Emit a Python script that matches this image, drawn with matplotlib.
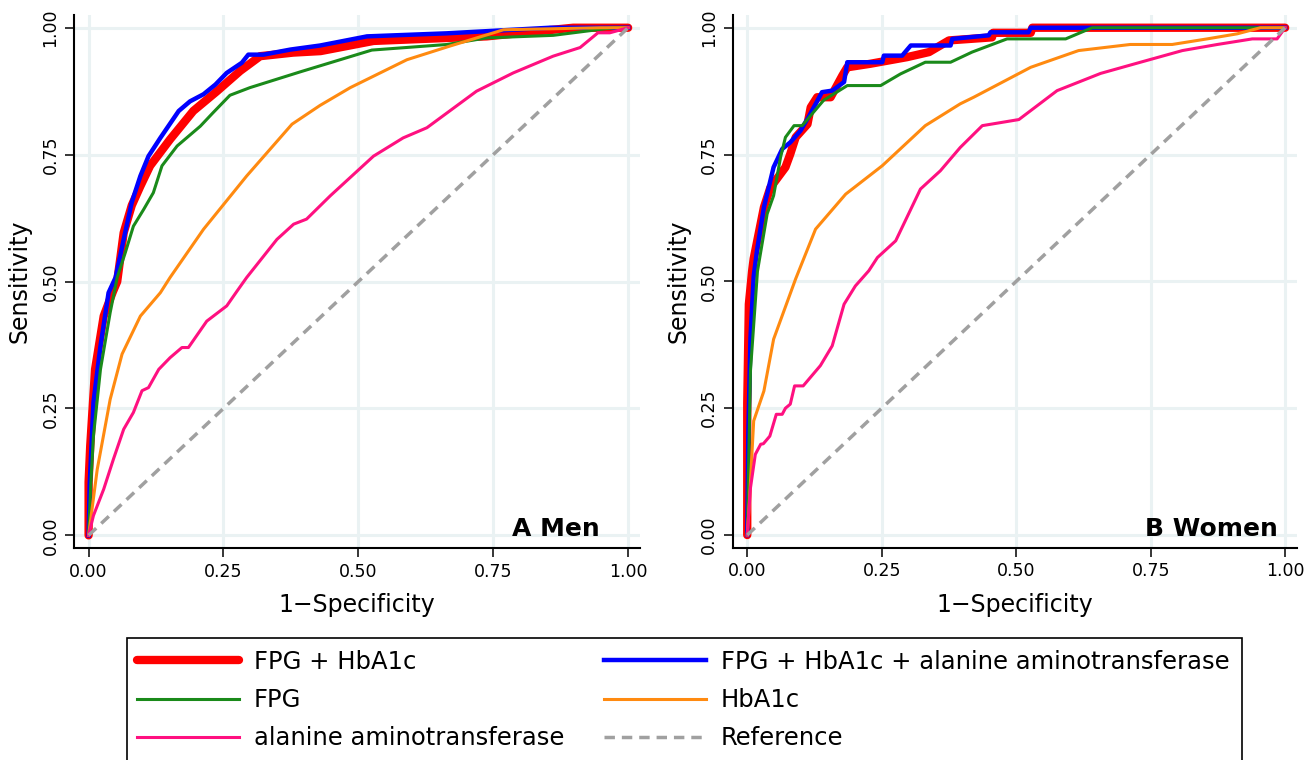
import matplotlib
matplotlib.use('Agg')
import matplotlib.pyplot as plt
from matplotlib.patches import Rectangle

plt.rcParams['font.family'] = ['DejaVu Sans']

# ---- Men (panel A) ----
men_comb_x = [0, 0.0, 0.003, 0.012, 0.028, 0.045, 0.053, 0.065, 0.08, 0.096, 0.114, 0.151, 0.194, 0.238,
              0.281, 0.318, 0.379, 0.43, 0.528, 0.738, 0.898, 1.0]
men_comb_y = [0, 0.105, 0.176, 0.327, 0.432, 0.48, 0.5, 0.596, 0.65, 0.688, 0.728, 0.78, 0.836, 0.875,
              0.915, 0.944, 0.951, 0.954, 0.974, 0.983, 1.0, 1.0]

men_all_x = [0, 0.002, 0.009, 0.022, 0.037, 0.05, 0.065, 0.08, 0.096, 0.111, 0.133, 0.167, 0.188, 0.213,
             0.235, 0.256, 0.284, 0.296, 0.324, 0.374, 0.429, 0.516, 0.664, 0.855, 1.0]
men_all_y = [0, 0.1, 0.262, 0.373, 0.478, 0.508, 0.583, 0.656, 0.708, 0.747, 0.783, 0.836, 0.855, 0.869,
             0.888, 0.911, 0.931, 0.947, 0.947, 0.957, 0.965, 0.983, 0.989, 1.0, 1.0]

men_fpg_x = [0, 0.004, 0.009, 0.022, 0.04, 0.053, 0.068, 0.083, 0.102, 0.12, 0.136, 0.164, 0.207, 0.231,
             0.262, 0.299, 0.392, 0.525, 0.664, 0.738, 0.861, 0.972, 1.0]
men_fpg_y = [0, 0.1, 0.196, 0.327, 0.439, 0.508, 0.557, 0.609, 0.642, 0.675, 0.728, 0.767, 0.806, 0.833,
             0.867, 0.882, 0.913, 0.956, 0.967, 0.98, 0.985, 1.0, 1.0]

men_hba1c_x = [0, 0.016, 0.04, 0.062, 0.096, 0.133, 0.151, 0.213, 0.293, 0.377, 0.429, 0.485, 0.59, 0.67,
               0.769, 0.95, 1.0]
men_hba1c_y = [0, 0.13, 0.268, 0.357, 0.432, 0.478, 0.508, 0.603, 0.708, 0.81, 0.847, 0.882, 0.937, 0.964,
               0.996, 1.0, 1.0]

men_alt_x = [0, 0.009, 0.028, 0.046, 0.065, 0.083, 0.099, 0.111, 0.13, 0.151, 0.173, 0.185, 0.219, 0.256,
             0.275, 0.293, 0.349, 0.38, 0.404, 0.448, 0.528, 0.583, 0.627, 0.719, 0.787, 0.861, 0.911, 0.944,
             0.966, 1.0]
men_alt_y = [0, 0.039, 0.091, 0.15, 0.209, 0.242, 0.285, 0.291, 0.327, 0.35, 0.37, 0.37, 0.422, 0.452,
             0.481, 0.508, 0.583, 0.613, 0.623, 0.669, 0.747, 0.783, 0.803, 0.875, 0.911, 0.944, 0.961, 0.99,
             0.99, 1.0]

# ---- Women (panel B) ----
women_comb_x = [0, 0.0, 0.003, 0.009, 0.012, 0.031, 0.043, 0.071, 0.08, 0.09, 0.112, 0.118, 0.13, 0.155,
                0.177, 0.186, 0.229, 0.297, 0.338, 0.375, 0.455, 0.457, 0.527, 0.53, 1.0]
women_comb_y = [0, 0.26, 0.455, 0.52, 0.545, 0.646, 0.685, 0.725, 0.751, 0.784, 0.81, 0.843, 0.863, 0.863,
                0.906, 0.922, 0.929, 0.942, 0.952, 0.975, 0.981, 0.99, 0.99, 1.0, 1.0]

women_all_x = [0, 0.002, 0.006, 0.012, 0.018, 0.031, 0.049, 0.065, 0.08, 0.099, 0.114, 0.139, 0.158, 0.18,
               0.186, 0.251, 0.254, 0.288, 0.304, 0.378, 0.381, 0.449, 0.452, 0.523, 0.527, 1.0]
women_all_y = [0, 0.2, 0.389, 0.51, 0.56, 0.646, 0.725, 0.761, 0.774, 0.797, 0.824, 0.873, 0.876, 0.893,
               0.932, 0.932, 0.945, 0.945, 0.965, 0.965, 0.978, 0.985, 0.991, 0.991, 1.0, 1.0]

women_fpg_x = [0, 0.006, 0.019, 0.037, 0.049, 0.062, 0.071, 0.087, 0.102, 0.142, 0.186, 0.248, 0.285,
               0.331, 0.378, 0.418, 0.483, 0.592, 0.641, 1.0]
women_fpg_y = [0, 0.324, 0.52, 0.633, 0.669, 0.745, 0.784, 0.807, 0.807, 0.857, 0.886, 0.886, 0.909,
               0.932, 0.932, 0.952, 0.978, 0.978, 1.0, 1.0]

women_hba1c_x = [0, 0.003, 0.012, 0.031, 0.049, 0.09, 0.127, 0.183, 0.251, 0.331, 0.396, 0.421, 0.527,
                 0.616, 0.712, 0.79, 0.855, 0.911, 0.954, 1.0]
women_hba1c_y = [0, 0.047, 0.225, 0.284, 0.386, 0.505, 0.603, 0.672, 0.728, 0.807, 0.85, 0.863, 0.922,
                 0.955, 0.967, 0.967, 0.978, 0.988, 1.0, 1.0]

women_alt_x = [0, 0.006, 0.015, 0.025, 0.03, 0.042, 0.054, 0.065, 0.071, 0.08, 0.088, 0.104, 0.136, 0.158,
               0.18, 0.201, 0.226, 0.242, 0.276, 0.322, 0.359, 0.396, 0.437, 0.505, 0.576, 0.657, 0.731,
               0.809, 0.874, 0.939, 0.985, 1.0]
women_alt_y = [0, 0.093, 0.159, 0.179, 0.18, 0.195, 0.238, 0.238, 0.25, 0.258, 0.294, 0.294, 0.334, 0.373,
               0.455, 0.491, 0.521, 0.547, 0.58, 0.682, 0.718, 0.764, 0.807, 0.819, 0.876, 0.91, 0.932,
               0.955, 0.967, 0.978, 0.978, 1.0]

ref_x = [0, 1]
ref_y = [0, 1]

tick_vals = [0, 0.25, 0.5, 0.75, 1.0]
tick_labels = ['0.00', '0.25', '0.50', '0.75', '1.00']

labels = ['FPG + HbA1c', 'FPG + HbA1c + alanine aminotransferase', 'FPG', 'HbA1c',
          'alanine aminotransferase', 'Reference']


def draw_panel(ax, series, tag, tag_x):
  comb, allv, fpg, hba, alt = series
  ax.plot(comb[0], comb[1], color='#ff0000', lw=6, solid_capstyle='round', zorder=3)
  ax.plot(allv[0], allv[1], color='#0000ff', lw=3.2, zorder=4)
  ax.plot(fpg[0], fpg[1], color='#1a8a1a', lw=2.2, zorder=5)
  ax.plot(hba[0], hba[1], color='#ff8a10', lw=2.2, zorder=6)
  ax.plot(alt[0], alt[1], color='#ff1080', lw=2.2, zorder=7)
  ax.plot(ref_x, ref_y, color='#a0a0a0', lw=2.5, dashes=(3, 2), zorder=8)
  ax.set_xlim(-0.027, 1.022)
  ax.set_ylim(-0.025, 1.025)
  ax.grid(True, color='#eaf2f3', lw=2.2)
  ax.set_axisbelow(True)
  ax.spines['top'].set_visible(False)
  ax.spines['right'].set_visible(False)
  ax.spines['left'].set_linewidth(1.5)
  ax.spines['bottom'].set_linewidth(1.5)
  ax.set_xticks(tick_vals)
  ax.set_xticklabels(tick_labels)
  ax.set_yticks(tick_vals)
  ax.set_yticklabels(tick_labels, rotation=90, va='center')
  ax.tick_params(direction='out', length=6.5, width=1.1, labelsize=12.5, pad=4)
  ax.set_xlabel('1\u2212Specificity', fontsize=17, labelpad=9)
  ax.set_ylabel('Sensitivity', fontsize=17, labelpad=7)
  ax.text(tag_x, -0.002, tag, ha='right', va='baseline', fontsize=18, fontweight='bold')


fig = plt.figure(figsize=(13.15, 7.6), dpi=100)
ax1 = fig.add_axes([0.0563, 0.2789, 0.4304, 0.7013])
ax2 = fig.add_axes([0.5572, 0.2793, 0.4291, 0.7009])

draw_panel(ax1, [(men_comb_x, men_comb_y), (men_all_x, men_all_y), (men_fpg_x, men_fpg_y),
                 (men_hba1c_x, men_hba1c_y), (men_alt_x, men_alt_y)], 'A Men', 0.948)
draw_panel(ax2, [(women_comb_x, women_comb_y), (women_all_x, women_all_y), (women_fpg_x, women_fpg_y),
                 (women_hba1c_x, women_hba1c_y), (women_alt_x, women_alt_y)], 'B Women', 0.986)

# legend, ordered row by row like the original (two columns)
h = ax1.get_lines()
handles = [h[0], h[2], h[4], h[1], h[3], h[5]]
leg_labels = [labels[0], labels[2], labels[4], labels[1], labels[3], labels[5]]
fig.legend(handles, leg_labels, loc='upper left', bbox_to_anchor=(137 / 1315, 1 - 650 / 760),
           ncol=2, frameon=False, fontsize=17.5, handlelength=4.2, handletextpad=0.6,
           columnspacing=1.65, labelspacing=0.58, borderpad=0, borderaxespad=0)
fig.patches.append(Rectangle((127 / 1315, -0.05), (1242 - 127) / 1315, 0.05 + 1 - 638 / 760,
                             transform=fig.transFigure, fill=False, edgecolor='black', lw=1.2))

plt.savefig('out.png', dpi=100)
